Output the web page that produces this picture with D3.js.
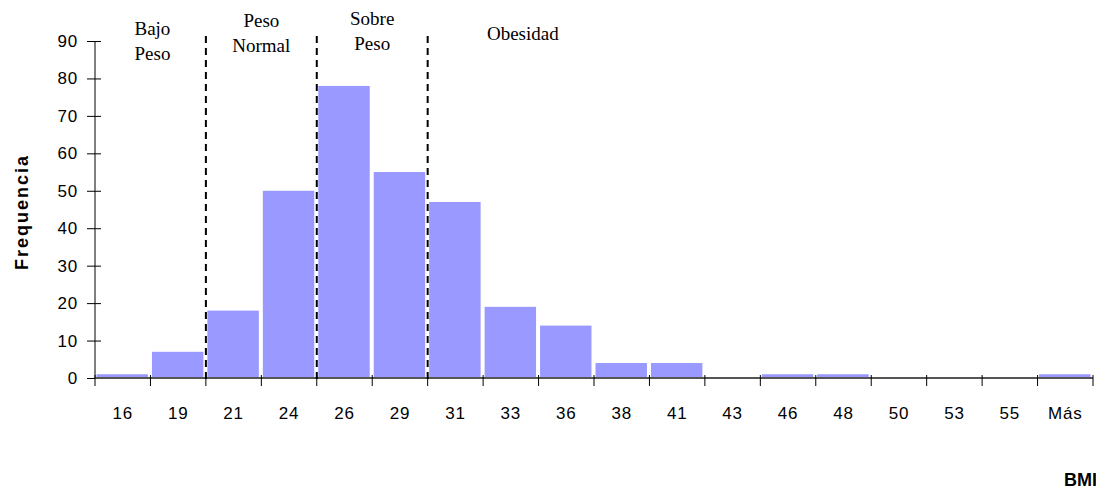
<!DOCTYPE html>
<html lang="es">
<head>
<meta charset="UTF-8">
<title>BMI</title>
<script src="https://d3js.org/d3.v7.min.js"></script>
<style>
    body { margin: 0; background: #fff; }
    .tick text { font-family: "Liberation Sans", Arial, sans-serif; }
</style>
</head>
<body>
<script>
    const categories = ["16","19","21","24","26","29","31","33","36","38","41","43","46","48","50","53","55","Más"];
    const frequencies = [1, 7, 18, 50, 78, 55, 47, 19, 14, 4, 4, 0, 1, 1, 0, 0, 0, 1];
    const yTicks = [0, 10, 20, 30, 40, 50, 60, 70, 80, 90];
    // dashed separators sit on the left edge of these categories
    const dividers = ["21", "26", "31"];
    const zoneLabels = [["Bajo", "Peso"], ["Peso", "Normal"], ["Sobre", "Peso"], ["Obesidad"]];
    const zoneFrom = ["16", "21", "26", "31"];
    const zoneTo = ["19", "24", "29", "36"];

    // layout
    const width = 1096, height = 489;
    const mLeft = 95, mRight = 1093, mTop = 41, mBottom = 378;
    const zoneBaseline = [35, 27, 25, 40];
    const zoneShift = [2, 0, 0, 12];

    const svg = d3.select("body").append("svg")
        .attr("width", width).attr("height", height);

    const x = d3.scaleBand().domain(categories).range([mLeft, mRight]).padding(0);
    const y = d3.scaleLinear().domain([0, 90]).range([mBottom, mTop]);

    // bars
    svg.selectAll("rect.bar")
        .data(frequencies)
        .enter()
        .append("rect")
        .attr("class", "bar")
        .attr("x", (d, i) => x(categories[i]) + 1.5)
        .attr("width", x.bandwidth() - 4)
        .attr("y", d => y(d))
        .attr("height", d => mBottom - y(d))
        .attr("fill", "#9999ff");

    // y axis
    const yAxis = svg.append("g")
        .attr("transform", `translate(${mLeft},0)`)
        .call(d3.axisLeft(y).tickValues(yTicks).tickSize(8).tickPadding(9));
    yAxis.selectAll(".tick line").attr("x2", -8).attr("x1", 6).attr("stroke", "#000");
    yAxis.select(".domain").attr("d", `M0,${mTop}V${mBottom}`).attr("stroke", "#000");
    yAxis.selectAll(".tick text").attr("font-size", 17).attr("fill", "#000").attr("letter-spacing", 0.8);

    // x axis
    const xAxis = svg.append("g")
        .attr("transform", `translate(0,${mBottom})`)
        .call(d3.axisBottom(x).tickSize(0).tickPadding(29));
    xAxis.select(".domain").attr("d", `M${mLeft},0H${mRight}`).attr("stroke", "#555").attr("stroke-width", 2);
    xAxis.selectAll(".tick text").attr("font-size", 17).attr("fill", "#000").attr("letter-spacing", 0.8);

    // tick marks on category boundaries
    const edges = categories.map(c => x(c)).concat([mRight]);
    svg.selectAll("line.edge")
        .data(edges)
        .enter()
        .append("line")
        .attr("x1", d => d).attr("x2", d => d)
        .attr("y1", mBottom - 3).attr("y2", mBottom + 8)
        .attr("stroke", "#000");

    // dashed zone separators
    svg.selectAll("line.divider")
        .data(dividers)
        .enter()
        .append("line")
        .attr("x1", d => x(d)).attr("x2", d => x(d))
        .attr("y1", 36).attr("y2", mBottom + 4)
        .attr("stroke", "#000")
        .attr("stroke-width", 2)
        .attr("stroke-dasharray", "7,5");

    // zone labels
    zoneLabels.forEach((lines, k) => {
        const cx = (x(zoneFrom[k]) + x(zoneTo[k]) + x.bandwidth()) / 2 + zoneShift[k];
        const t = svg.append("text")
            .attr("x", cx)
            .attr("y", zoneBaseline[k])
            .attr("text-anchor", "middle")
            .attr("font-family", "'Liberation Serif', 'Times New Roman', serif")
            .attr("font-size", 19)
            .attr("fill", "#000");
        lines.forEach((l, i) => {
            t.append("tspan").attr("x", cx).attr("dy", i === 0 ? 0 : 25).text(l);
        });
    });

    // axis titles
    svg.append("text")
        .attr("transform", `translate(28,212) rotate(-90)`)
        .attr("text-anchor", "middle")
        .attr("font-family", "'Liberation Sans', Arial, sans-serif")
        .attr("font-weight", "bold")
        .attr("font-size", 18)
        .attr("letter-spacing", 2)
        .text("Frequencia");

    svg.append("text")
        .attr("x", 1064)
        .attr("y", 486)
        .attr("font-family", "'Liberation Sans', Arial, sans-serif")
        .attr("font-weight", "bold")
        .attr("font-size", 18)
        .text("BMI");
</script>
</body>
</html>
